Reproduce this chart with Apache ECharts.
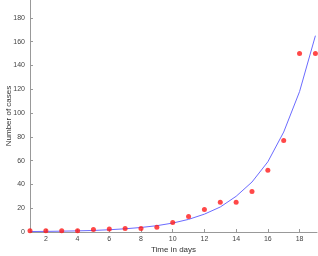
<!DOCTYPE html>
<html><head><meta charset="utf-8">
<script src="https://cdn.jsdelivr.net/npm/echarts@6/dist/echarts.min.js"></script>
<style>html,body{margin:0;padding:0;background:#fff}#c{width:318px;height:256px}</style>
</head><body><div id="c"></div>
<script>
var days = [1,2,3,4,5,6,7,8,9,10,11,12,13,14,15,16,17,18,19];
var cases = [1,1,1,1,2,2.5,3,3,4,8,13,19,25,25,34,52,77,150,150];
var fitDays = [1,2,3,4,5,6,7,8,9,10,11,12,13,14,15,16,17,18,19];
var fitValues = [0.4,0.5,0.7,0.95,1.3,1.9,2.7,3.8,5.3,7.5,10.6,15,21,30,42,59,84,118,165];
var xTicks = [2,4,6,8,10,12,14,16,18];
var yTicks = [0,20,40,60,80,100,120,140,160,180];

var chart = echarts.init(document.getElementById('c'));
var axisCol = '#999';
var textCol = '#444';
chart.setOption({
  animation:false,
  grid:{left:30,right:1,top:0,bottom:24,containLabel:false,outerBoundsMode:'none'},
  xAxis:{type:'value',min:1,max:19.1,interval:2,
    name:'Time in days',nameLocation:'middle',nameGap:14,nameMoveOverlap:false,
    nameTextStyle:{fontSize:8,color:'#333',fontFamily:'Liberation Sans'},
    axisLine:{lineStyle:{color:axisCol}},
    axisTick:{inside:true,length:3,lineStyle:{color:axisCol},customValues:xTicks},
    axisLabel:{fontSize:7,color:textCol,margin:4,fontFamily:'Liberation Sans',customValues:xTicks},
    splitLine:{show:false}},
  yAxis:{type:'value',min:0,max:195,interval:20,
    name:'Number of cases',nameLocation:'middle',nameGap:17,nameMoveOverlap:false,
    nameTextStyle:{fontSize:8,color:'#333',fontFamily:'Liberation Sans'},
    axisLine:{show:true,lineStyle:{color:axisCol}},
    axisTick:{show:true,inside:true,length:3,lineStyle:{color:axisCol},customValues:yTicks},
    axisLabel:{fontSize:7,color:textCol,margin:5,fontFamily:'Liberation Sans',customValues:yTicks},
    splitLine:{show:false}},
  series:[
    {type:'line',data:fitDays.map(function(d,i){return [d,fitValues[i]];}),
     showSymbol:false,lineStyle:{color:'#6b6bff',width:1},z:2},
    {type:'scatter',data:days.map(function(d,i){return [d,cases[i]];}),
     symbol:'circle',symbolSize:5,itemStyle:{color:'#ff1a1a'},z:3}
  ]
});
</script></body></html>
